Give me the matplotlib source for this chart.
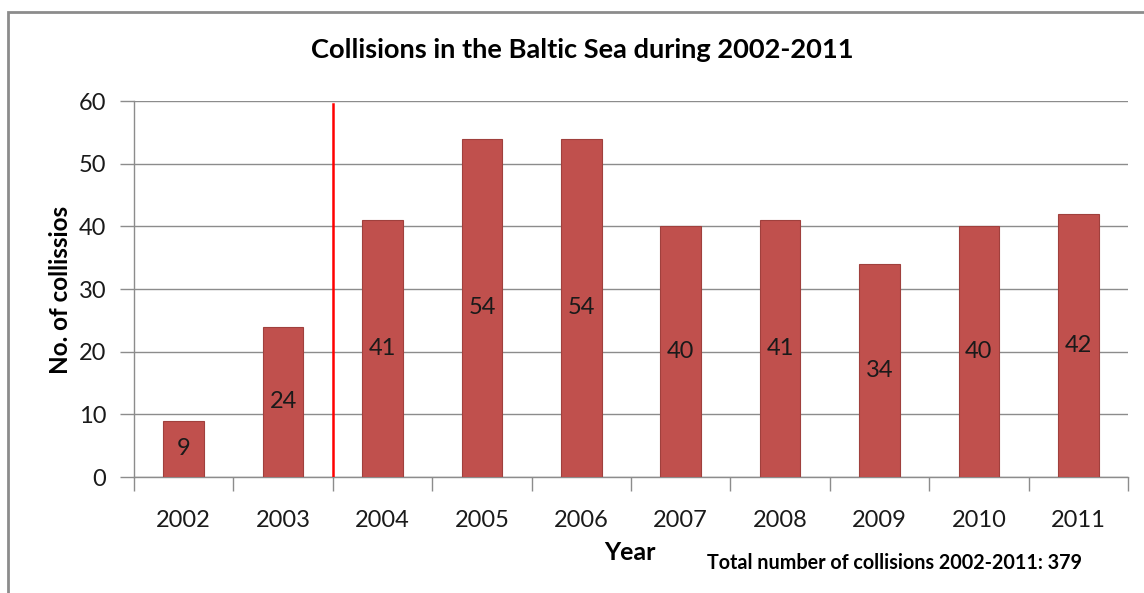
import matplotlib
matplotlib.use("Agg")
import matplotlib.pyplot as plt
from matplotlib.patches import Rectangle

years = ["2002", "2003", "2004", "2005", "2006", "2007", "2008", "2009", "2010", "2011"]
collisions = [9, 24, 41, 54, 54, 40, 41, 34, 40, 42]
title = "Collisions in the Baltic Sea during 2002-2011"
ylabel = "No. of collissios"
xlabel = "Year"
note = "Total number of collisions 2002-2011: 379"
divider_top = 59.5

plt.rcParams['font.family'] = ['Lato', 'DejaVu Sans']

W, H = 1144, 593
fig = plt.figure(figsize=(W / 100, H / 100), dpi=100)
ax = fig.add_axes([134 / W, 1 - 477 / H, (1128 - 134) / W, (477 - 101) / H])

x = list(range(len(years)))
ax.bar(x, collisions, width=0.41, color="#C0504D", edgecolor="#A0403D", linewidth=0.8, zorder=3)
for xi, v in zip(x, collisions):
    ax.text(xi, v / 2, str(v), ha="center", va="center", fontsize=17, color="#1a1a1a", zorder=4)

ax.set_xlim(-0.5, len(years) - 0.5)
ax.set_ylim(0, 60)
ax.set_yticks(range(0, 61, 10))
ax.yaxis.grid(True, color="#8c8c8c", linewidth=1.0, zorder=0)
ax.set_axisbelow(True)

ax.set_xticks([i + 0.5 for i in range(-1, len(years))], minor=False)
ax.set_xticklabels([])
ax.set_xticks(x, minor=True)
ax.set_xticklabels(years, minor=True)
ax.tick_params(axis="x", which="major", length=10, width=1, color="#8c8c8c", direction="out")
ax.tick_params(axis="x", which="minor", length=0, labelsize=17, pad=24, labelcolor="#1a1a1a")
ax.tick_params(axis="y", length=10, width=1, color="#8c8c8c", labelsize=17, pad=10, labelcolor="#1a1a1a")

for s in ["top", "right"]:
    ax.spines[s].set_visible(False)
for s in ["left", "bottom"]:
    ax.spines[s].set_color("#8c8c8c")
    ax.spines[s].set_linewidth(1.0)

ax.plot([1.5, 1.5], [0, divider_top], color="#FF0000", linewidth=1.8, zorder=5)

fig.text(582 / W, 1 - 50 / H, title, ha="center", va="center", fontsize=19.6, fontweight="bold", color="#000000")
fig.text(60 / W, 1 - 290 / H, ylabel, ha="center", va="center", rotation=90, fontsize=17.5, fontweight="bold", color="#000000")
fig.text(630 / W, 1 - 552 / H, xlabel, ha="center", va="center", fontsize=18, fontweight="bold", color="#000000")
fig.text(707 / W, 1 - 563 / H, note, ha="left", va="center", fontsize=14.2, fontweight="bold", color="#000000")

fig.patches.append(Rectangle((8 / W, -0.1), 1.2, 1 - 12 / H + 0.1, transform=fig.transFigure,
                             fill=False, edgecolor="#8c8c8c", linewidth=2))

fig.savefig("out.png", dpi=100)
